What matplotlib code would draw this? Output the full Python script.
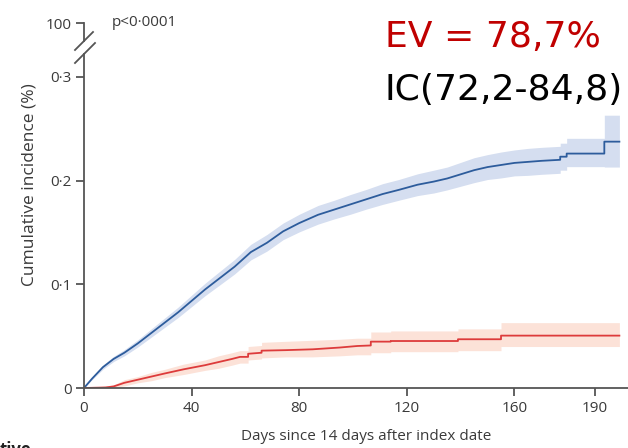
import matplotlib
matplotlib.use("Agg")
import matplotlib.pyplot as plt
from matplotlib.lines import Line2D

plt.rcParams['font.family'] = ['Open Sans', 'DejaVu Sans']

# vaccinated-group style curve (blue)
blue_days = [0, 3, 7, 11, 15, 20, 25, 30, 35, 40, 45, 50, 56, 62, 68, 74, 80, 87, 93, 99,
             105, 111, 117, 124, 130, 135, 140, 145, 150, 155, 160, 165, 170, 177, 177,
             179.4, 179.4, 193.4, 193.4, 199]
blue_val = [0, 0.009, 0.020, 0.028, 0.034, 0.043, 0.053, 0.063, 0.073, 0.084, 0.095, 0.105,
            0.117, 0.131, 0.140, 0.151, 0.159, 0.167, 0.172, 0.177, 0.182, 0.187, 0.191,
            0.196, 0.199, 0.202, 0.206, 0.210, 0.213, 0.215, 0.217, 0.218, 0.219, 0.220,
            0.223, 0.223, 0.226, 0.226, 0.2375, 0.2375]
blue_lo = [0, 0.008, 0.018, 0.0255, 0.031, 0.0395, 0.049, 0.0585, 0.068, 0.0785, 0.089,
           0.0985, 0.110, 0.1235, 0.132, 0.143, 0.1505, 0.158, 0.163, 0.1675, 0.1725,
           0.177, 0.181, 0.1855, 0.188, 0.191, 0.1945, 0.198, 0.201, 0.2025, 0.2045,
           0.205, 0.206, 0.207, 0.210, 0.210, 0.2134, 0.2134, 0.213, 0.213]
blue_hi = [0, 0.010, 0.022, 0.0305, 0.037, 0.0465, 0.057, 0.0675, 0.078, 0.0895, 0.101,
           0.1115, 0.124, 0.1385, 0.148, 0.159, 0.1675, 0.176, 0.181, 0.1865, 0.1915,
           0.197, 0.201, 0.2065, 0.210, 0.213, 0.2175, 0.222, 0.225, 0.2275, 0.2295,
           0.231, 0.232, 0.233, 0.236, 0.236, 0.2407, 0.2407, 0.263, 0.263]

# unvaccinated-group style curve (red)
red_days = [0, 8, 11, 15, 20, 25, 30, 37, 41, 45, 50, 55, 58, 61, 61, 66, 66, 75, 85, 95,
            101.6, 106.6, 106.6, 114, 114, 139, 139, 155, 155, 199]
red_val = [0, 0.0005, 0.0015, 0.005, 0.008, 0.011, 0.014, 0.018, 0.020, 0.022, 0.025,
           0.028, 0.030, 0.030, 0.033, 0.034, 0.036, 0.0365, 0.0373, 0.039, 0.0405, 0.041,
           0.0447, 0.0447, 0.0453, 0.0453, 0.047, 0.047, 0.0505, 0.0505]
red_lo = [0, 0, 0.0005, 0.002, 0.005, 0.007, 0.010, 0.013, 0.015, 0.017, 0.019, 0.022,
          0.024, 0.024, 0.027, 0.028, 0.029, 0.030, 0.030, 0.031, 0.032, 0.032, 0.034,
          0.034, 0.035, 0.035, 0.036, 0.036, 0.040, 0.040]
red_hi = [0, 0.002, 0.003, 0.008, 0.011, 0.015, 0.018, 0.023, 0.025, 0.027, 0.031, 0.034,
          0.036, 0.036, 0.040, 0.041, 0.044, 0.045, 0.046, 0.047, 0.048, 0.048, 0.054,
          0.054, 0.055, 0.055, 0.057, 0.057, 0.063, 0.063]

x_ticks = [0, 40, 80, 120, 160, 190]
y_ticks = [0, 0.1, 0.2, 0.3]
y_labels = ['0', '0·1', '0·2', '0·3']

W, H = 628, 448
axc = '#555555'
txc = '#3a3a3a'

fig = plt.figure(figsize=(6.28, 4.48), dpi=100)
ax = fig.add_axes([84 / W, 1 - 388 / H, (W - 84) / W, (388 - 54) / H])
top = fig.add_axes([84 / W, 1 - 41 / H, (W - 84) / W, 18 / H])

ax.fill_between(blue_days, blue_lo, blue_hi, color='#d5def0', lw=0)
ax.fill_between(red_days, red_lo, red_hi, color='#fce2d8', lw=0)
ax.plot(blue_days, blue_val, color='#2d5c9c', lw=1.3)
ax.plot(red_days, red_val, color='#dd3b3b', lw=1.3)

ax.set_xlim(0, 202.2)
ax.set_ylim(0, 0.322)
ax.set_xticks(x_ticks)
ax.set_yticks(y_ticks)
ax.set_yticklabels(y_labels)

for a in (ax, top):
    for s in ('top', 'right'):
        a.spines[s].set_visible(False)
    a.spines['left'].set_color(axc)
    a.spines['left'].set_linewidth(1.3)
    a.tick_params(colors=axc, labelcolor=txc, labelsize=11, width=1.3, length=6,
                  direction='out', pad=3)
ax.spines['bottom'].set_color(axc)
ax.spines['bottom'].set_linewidth(1.3)

top.set_ylim(99, 100)
top.set_xlim(0, 202.2)
top.set_yticks([100])
top.set_yticklabels(['100'])
top.set_xticks([])
top.spines['bottom'].set_visible(False)
top.patch.set_visible(False)

# axis break marks
for (x0, y0, x1, y1) in [(75, 50, 93, 32), (75, 63, 95, 43)]:
    fig.add_artist(Line2D([x0 / W, x1 / W], [1 - y0 / H, 1 - y1 / H],
                          color=axc, lw=1.3))

fig.text(112 / W, 1 - 23 / H, 'p<0·0001', color=txc, fontsize=11, va='center')
fig.text(30 / W, 1 - 185 / H, 'Cumulative incidence (%)', color=txc, fontsize=12.5,
         rotation=90, ha='center', va='center')
fig.text(366 / W, 1 - 436 / H, 'Days since 14 days after index date', color=txc,
         fontsize=11, ha='center', va='center')
fig.text(0, 1 - 441 / H, 'tive', color='#222222', fontsize=12, weight='bold', va='top')

fig.text(385 / W, 1 - 47 / H, 'EV = 78,7%', color='#c00000', fontsize=26,
         family='DejaVu Sans', va='baseline')
fig.text(385 / W, 1 - 100 / H, 'IC(72,2-84,8)', color='black', fontsize=26,
         family='DejaVu Sans', va='baseline')

fig.savefig('out.png', dpi=100)
